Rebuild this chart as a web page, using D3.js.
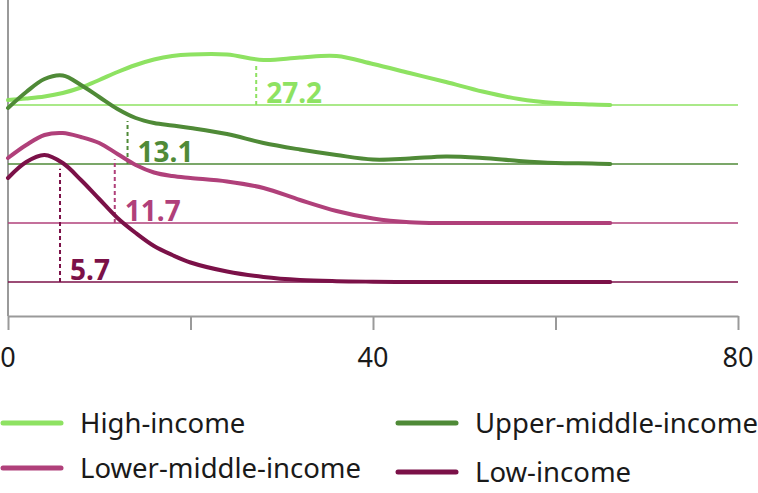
<!DOCTYPE html>
<html>
<head>
<meta charset="utf-8">
<script src="https://cdn.jsdelivr.net/npm/d3@7"></script>
<style>
  body { margin: 0; background: #fff; }
  svg { font-family: "Noto Sans", sans-serif; }
</style>
</head>
<body>
<div class="ridge-plot"></div>
<script>
// shared x grid for the density curves
const xs = [0, 2, 4, 6, 8, 10, 12, 14, 16, 18, 20, 24, 28, 32, 36, 40, 44, 48, 52, 56, 60, 64, 66];

const groups = ["High-income", "Upper-middle-income", "Lower-middle-income", "Low-income"];
const colors = ["#8ee262", "#4f8a37", "#b0407a", "#7b1148"];
const medians = [27.2, 13.1, 11.7, 5.7];

// density heights
const highIncome = [0.5, 0.65, 0.85, 1.2, 1.75, 2.5, 3.3, 4.0, 4.55, 4.9, 5.05, 5.05, 4.5, 4.75, 4.9, 4.1, 3.2, 2.3, 1.35, 0.6, 0.2, 0.05, 0];
const upperMiddle = [5.6, 7.2, 8.5, 8.85, 7.9, 6.7, 5.5, 4.6, 4.1, 3.85, 3.6, 3.0, 2.1, 1.45, 0.9, 0.45, 0.55, 0.75, 0.6, 0.3, 0.1, 0.05, 0];
const lowerMiddle = [6.5, 7.8, 8.8, 9.0, 8.6, 8.0, 6.9, 5.8, 5.05, 4.7, 4.5, 4.15, 3.5, 2.3, 1.2, 0.45, 0.08, 0, 0, 0, 0, 0, 0];
const lowIncome = [10.4, 12.0, 12.7, 11.9, 10.2, 8.3, 6.4, 4.9, 3.6, 2.7, 1.95, 1.05, 0.5, 0.2, 0.08, 0.03, 0, 0, 0, 0, 0, 0, 0];

const series = [highIncome, upperMiddle, lowerMiddle, lowIncome];
const xTicks = [0, 20, 40, 60, 80];
const xLabels = [0, 40, 80];

const width = 758;
const height = 493;

const svg = d3.select(".ridge-plot")
  .append("svg")
  .attr("width", width)
  .attr("height", height);

const x = d3.scaleLinear().domain([0, 80]).range([8, 738]);
const base = d3.scalePoint().domain(groups).range([105, 282]);
const h = d3.scaleLinear().domain([0, 10]).range([0, 100]);

// left axis line
svg.append("line")
  .attr("x1", x(0)).attr("x2", x(0))
  .attr("y1", 0).attr("y2", 316)
  .attr("stroke", "#9a9a9a")
  .attr("stroke-width", 2);

// bottom axis
const axis = svg.append("g")
  .attr("transform", "translate(0,316)")
  .call(d3.axisBottom(x).tickValues(xTicks).tickSize(14).tickSizeOuter(0).tickFormat(""));
axis.select(".domain").attr("stroke", "#9a9a9a").attr("stroke-width", 2);
axis.selectAll(".tick line").attr("stroke", "#9a9a9a").attr("stroke-width", 2);

svg.selectAll(".xlabel")
  .data(xLabels)
  .enter()
  .append("text")
  .attr("class", "xlabel")
  .attr("x", d => x(d))
  .attr("y", 367)
  .attr("text-anchor", "middle")
  .attr("font-size", "27px")
  .attr("fill", "#1a1a1a")
  .text(d => d);

const line = d3.line().curve(d3.curveCatmullRom);

groups.forEach(function(g, i) {
  const y0 = base(g);
  const vals = series[i];

  svg.append("line")
    .attr("x1", x(0)).attr("x2", x(80))
    .attr("y1", y0).attr("y2", y0)
    .attr("stroke", colors[i])
    .attr("stroke-width", 1.6);

  // dashed median marker
  const m = medians[i];
  const j = d3.bisectRight(xs, m) - 1;
  const t = (m - xs[j]) / (xs[j + 1] - xs[j]);
  const dens = vals[j] + t * (vals[j + 1] - vals[j]);
  svg.append("line")
    .attr("x1", x(m)).attr("x2", x(m))
    .attr("y1", y0).attr("y2", y0 - h(dens) + 7)
    .attr("stroke", colors[i])
    .attr("stroke-width", 2)
    .attr("stroke-dasharray", "4,3");

  svg.append("text")
    .attr("x", x(m) + 10)
    .attr("y", y0 - 2)
    .attr("font-size", "28px")
    .attr("font-weight", "bold")
    .attr("fill", colors[i])
    .text(m);

  svg.append("path")
    .datum(xs.map((d, k) => [x(d), y0 - h(vals[k])]))
    .attr("d", line)
    .attr("fill", "none")
    .attr("stroke", colors[i])
    .attr("stroke-width", 4)
    .attr("stroke-linecap", "round");
});

// legend
const legendPos = [[3, 423], [398, 423], [3, 468], [398, 472]];
const legend = svg.selectAll(".legend")
  .data(groups)
  .enter()
  .append("g")
  .attr("class", "legend")
  .attr("transform", (d, i) => "translate(" + legendPos[i][0] + "," + legendPos[i][1] + ")");

legend.append("line")
  .attr("x1", 0).attr("x2", 58)
  .attr("stroke", (d, i) => colors[i])
  .attr("stroke-width", 5)
  .attr("stroke-linecap", "round");

legend.append("text")
  .attr("x", 77)
  .attr("y", 10)
  .attr("font-size", "27.5px")
  .attr("fill", "#1a1a1a")
  .text(d => d);
</script>
</body>
</html>
